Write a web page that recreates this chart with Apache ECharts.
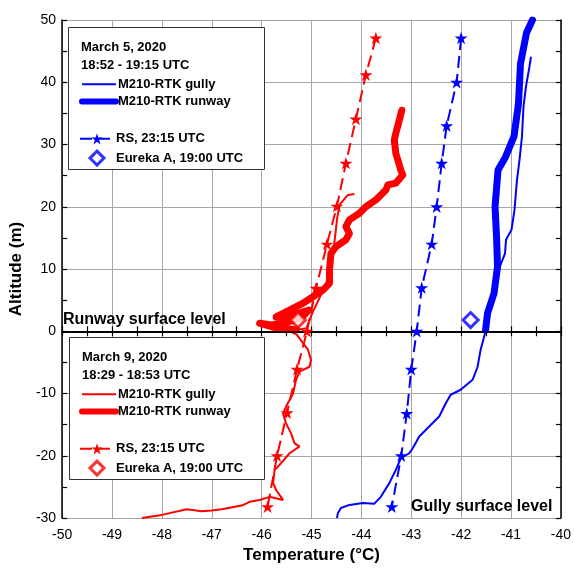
<!DOCTYPE html>
<html><head><meta charset="utf-8">
<script src="https://cdn.jsdelivr.net/npm/echarts@6/dist/echarts.min.js"></script>
<style>html,body{margin:0;padding:0;background:#fff}#c{width:574px;height:569px}</style>
</head><body><div id="c"></div>
<script>
// ---- data (temperature °C, altitude m) ----
const xTicks = [-50,-49,-48,-47,-46,-45,-44,-43,-42,-41,-40];
const yTicks = [-30,-20,-10,0,10,20,30,40,50];

// March 5 (blue)
const blueGully = [[-44.49,-30],[-44.47,-29.2],[-44.41,-28.4],[-44.24,-27.9],[-43.97,-27.6],[-43.74,-27.7],[-43.61,-26.6],[-43.44,-24.4],[-43.31,-22.3],[-43.21,-20.4],[-43.04,-19.6],[-42.97,-18.8],[-42.84,-16.9],[-42.64,-15.3],[-42.44,-13.7],[-42.31,-11.6],[-42.21,-10.2],[-42.01,-9.4],[-41.77,-7.8],[-41.67,-5.7],[-41.61,-3.0],[-41.51,0],[-41.47,3],[-41.34,6],[-41.25,9.8],[-41.12,12.5],[-41.1,14.7],[-40.99,16.3],[-40.93,19.5],[-40.88,24.3],[-40.83,27.5],[-40.78,31.3],[-40.75,36.1],[-40.7,39.3],[-40.63,42.5],[-40.6,44.1]];
const blueRunway = [[-41.51,0.2],[-41.47,2.9],[-41.34,6.1],[-41.27,10.4],[-41.29,15.2],[-41.32,20.0],[-41.26,25.9],[-41.11,28.0],[-40.94,31.3],[-40.85,36.6],[-40.81,43.0],[-40.69,47.9],[-40.57,50]];
const blueRS = [[-42.0,47.1],[-42.09,40.0],[-42.29,33.0],[-42.39,27.0],[-42.49,20.0],[-42.59,14.0],[-42.79,7.0],[-42.89,0],[-43.0,-6.1],[-43.09,-13.2],[-43.2,-20.0],[-43.39,-28.2]];
const blueEureka = [[-41.81,1.8]];

// March 9 (red)
const redGully = [[-48.4,-30],[-48.0,-29.5],[-47.5,-28.6],[-47.2,-28.9],[-47.0,-28.8],[-46.8,-28.6],[-46.4,-28.0],[-46.24,-27.4],[-46.04,-27.1],[-45.84,-26.6],[-45.57,-27.1],[-45.71,-25.5],[-45.77,-24.4],[-45.74,-22.3],[-45.61,-21.2],[-45.44,-19.6],[-45.24,-18.5],[-45.34,-18.0],[-45.41,-16.4],[-45.51,-14.8],[-45.57,-13.2],[-45.51,-12.1],[-45.37,-10.0],[-45.31,-7.8],[-45.24,-6.5],[-45.04,-5.7],[-45.01,-4.6],[-45.07,-3.0],[-45.17,-1.9],[-45.3,-0.5],[-45.44,0],[-45.1,0.5],[-44.98,3],[-44.8,6],[-44.64,9],[-44.57,12.5],[-44.52,15.7],[-44.49,17.9],[-44.44,20.3],[-44.27,21.9],[-44.14,22.05]];
const redRunway = [[-45.3,0.3],[-45.7,0.5],[-46.04,1.3],[-45.8,1.0],[-45.5,1.4],[-45.2,2.2],[-45.05,3.4],[-45.3,2.8],[-45.71,2.3],[-45.44,3.4],[-45.17,4.5],[-44.97,5.55],[-44.77,6.6],[-44.64,7.7],[-44.64,9.8],[-44.61,12.5],[-44.51,13.6],[-44.31,14.7],[-44.24,15.7],[-44.31,16.8],[-44.24,17.9],[-44.04,18.95],[-43.91,20.0],[-43.71,21.1],[-43.51,22.7],[-43.47,23.5],[-43.31,23.8],[-43.17,25.1],[-43.21,25.9],[-43.31,28.6],[-43.34,30.7],[-43.31,31.8],[-43.24,33.9],[-43.19,35.5]];
const redRS = [[-43.71,47.1],[-43.91,41.2],[-44.11,34.1],[-44.31,27.0],[-44.49,20.1],[-44.69,14.0],[-44.91,6.9],[-45.09,0],[-45.29,-6.1],[-45.49,-13.1],[-45.69,-20.0],[-45.88,-28.2]];
const redEureka = [[-45.27,1.8]];

const legendLabels = {
  bGully:'M210-RTK gully', bRunway:'M210-RTK runway', bRS:'RS, 23:15 UTC', bEureka:'Eureka A, 19:00 UTC',
  rGully:'M210-RTK gully', rRunway:'M210-RTK runway', rRS:'RS, 23:15 UTC', rEureka:'Eureka A, 19:00 UTC'
};

const BLUE = '#0000ff', RED = '#ff0000';
const FONT = 'Liberation Sans, Arial, sans-serif';
const STAR = 'path://M100,0L122.45,69.1L195.1,69.1L136.3,111.8L158.8,180.9L100,138.2L41.2,180.9L63.7,111.8L4.9,69.1L77.55,69.1Z';
const DIAMOND = 'path://M10,0L20,10L10,20L0,10Z';
const chart = echarts.init(document.getElementById('c'));

function gullySeries(name, color, data, extra) {
  return Object.assign({ name, type:'line', data, showSymbol:false, symbol:'none',
    lineStyle:{color, width:2}, itemStyle:{color}, z:3, animation:false }, extra||{});
}
function runwaySeries(name, color, data) {
  return { name, type:'line', data, showSymbol:false, symbol:'none',
    lineStyle:{color, width:7, cap:'round', join:'round'}, itemStyle:{color}, z:4, animation:false };
}
function rsSeries(name, color, data) {
  return { name, type:'line', data, symbol:STAR, symbolSize:13, symbolKeepAspect:true, showSymbol:true,
    lineStyle:{color, width:2, type:[12,6]}, itemStyle:{color, borderWidth:0}, z:5, animation:false };
}
function eurekaSeries(name, color, data) {
  return { name, type:'scatter', data, symbol:'diamond', symbolSize:15,
    itemStyle:{color:'#fff', borderColor:color, borderWidth:3}, z:6, animation:false };
}
function lineItems(prefix) {
  return [
    {name:prefix+'Gully', itemStyle:{opacity:0}, lineStyle:{width:2}},
    {name:prefix+'Runway', itemStyle:{opacity:0}, lineStyle:{width:6, cap:'round'}}
  ];
}
function markItems(prefix, color) {
  return [
    {name:prefix+'RS'},
    {name:prefix+'Eureka', icon:DIAMOND, itemStyle:{color:'#fff', borderColor:color, borderWidth:3}}
  ];
}

const legendCommon = { orient:'vertical', padding:0, itemGap:4.3, itemWidth:34, itemHeight:14, z:20,
  symbolKeepAspect:true,
  formatter:(n)=>legendLabels[n], selectedMode:false,
  textStyle:{fontFamily:FONT, fontSize:13, fontWeight:'bold', color:'#000', padding:[0,0,0,-3]} };

const opt = {
  animation:false,
  grid:{left:62, right:12, top:20, bottom:51},
  xAxis:[{
    type:'value', min:-50, max:-40, interval:1,
    name:'Temperature (°C)', nameLocation:'middle', nameGap:27,
    nameTextStyle:{fontFamily:FONT, fontSize:17, fontWeight:'bold', color:'#000'},
    axisLine:{lineStyle:{color:'#000', width:1.5}},
    axisTick:{inside:true, length:5, lineStyle:{color:'#000', width:1.2}},
    minorTick:{show:true, splitNumber:2, length:5, lineStyle:{color:'#000', width:1.2}},
    axisLabel:{fontFamily:FONT, fontSize:14, color:'#000', margin:10,
      formatter:(v)=> xTicks.includes(v) ? String(v) : ''},
    splitLine:{show:true, lineStyle:{color:'#a6a6a6', width:1}}
  },{
    type:'value', min:-50, max:-40, interval:1, position:'top',
    axisLine:{lineStyle:{color:'#000', width:1.5}},
    axisTick:{inside:true, length:5, lineStyle:{color:'#000', width:1.2}},
    minorTick:{show:true, splitNumber:2, length:5, lineStyle:{color:'#000', width:1.2}},
    axisLabel:{show:false}, splitLine:{show:false}
  }],
  yAxis:[{
    type:'value', min:-30, max:50, interval:10,
    name:'Altitude (m)', nameLocation:'middle', nameGap:29,
    nameTextStyle:{fontFamily:FONT, fontSize:17, fontWeight:'bold', color:'#000'},
    axisLine:{lineStyle:{color:'#000', width:1.5}},
    axisTick:{inside:true, length:5, lineStyle:{color:'#000', width:1.2}},
    minorTick:{show:true, splitNumber:2, length:5, lineStyle:{color:'#000', width:1.2}},
    axisLabel:{fontFamily:FONT, fontSize:14, color:'#000', margin:6,
      formatter:(v)=> yTicks.includes(v) ? String(v) : ''},
    splitLine:{show:true, lineStyle:{color:'#a6a6a6', width:1}}
  },{
    type:'value', min:-30, max:50, interval:10, position:'right',
    axisLine:{lineStyle:{color:'#000', width:1.5}},
    axisTick:{inside:true, length:5, lineStyle:{color:'#000', width:1.2}},
    minorTick:{show:true, splitNumber:2, length:5, lineStyle:{color:'#000', width:1.2}},
    axisLabel:{show:false}, splitLine:{show:false}
  }],
  legend:[
    Object.assign({}, legendCommon, {left:79, top:77.8, data:lineItems('b')}),
    Object.assign({}, legendCommon, {left:79, top:132.3, data:markItems('b', BLUE)}),
    Object.assign({}, legendCommon, {left:79, top:387.8, data:lineItems('r')}),
    Object.assign({}, legendCommon, {left:79, top:442.3, data:markItems('r', RED)})
  ],
  graphic:[
    {type:'rect', left:68, top:27, z:10, shape:{width:196, height:142}, style:{fill:'#fff', stroke:'#333', lineWidth:1}},
    {type:'text', left:81, top:41, z:11, style:{text:'March 5, 2020', font:'bold 13px '+FONT, fill:'#000'}},
    {type:'text', left:81, top:59, z:11, style:{text:'18:52 - 19:15 UTC', font:'bold 13px '+FONT, fill:'#000'}},
    {type:'rect', left:69, top:337, z:10, shape:{width:195, height:142}, style:{fill:'#fff', stroke:'#333', lineWidth:1}},
    {type:'text', left:82, top:351, z:11, style:{text:'March 9, 2020', font:'bold 13px '+FONT, fill:'#000'}},
    {type:'text', left:82, top:369, z:11, style:{text:'18:29 - 18:53 UTC', font:'bold 13px '+FONT, fill:'#000'}},
    {type:'text', left:63, top:312, z:11, style:{text:'Runway surface level', font:'bold 16px '+FONT, fill:'#000'}},
    {type:'text', left:411, top:499, z:11, style:{text:'Gully surface level', font:'bold 16px '+FONT, fill:'#000'}}
  ],
  series:[
    gullySeries('bGully', BLUE, blueGully, {
      markLine:{silent:true, symbol:'none', label:{show:false}, animation:false,
        lineStyle:{color:'#000', width:1.5, type:'solid'}, data:[{yAxis:0}]}
    }),
    runwaySeries('bRunway', BLUE, blueRunway),
    rsSeries('bRS', BLUE, blueRS),
    eurekaSeries('bEureka', BLUE, blueEureka),
    gullySeries('rGully', RED, redGully),
    runwaySeries('rRunway', RED, redRunway),
    rsSeries('rRS', RED, redRS),
    eurekaSeries('rEureka', RED, redEureka)
  ]
};
chart.setOption(opt);
</script></body></html>
